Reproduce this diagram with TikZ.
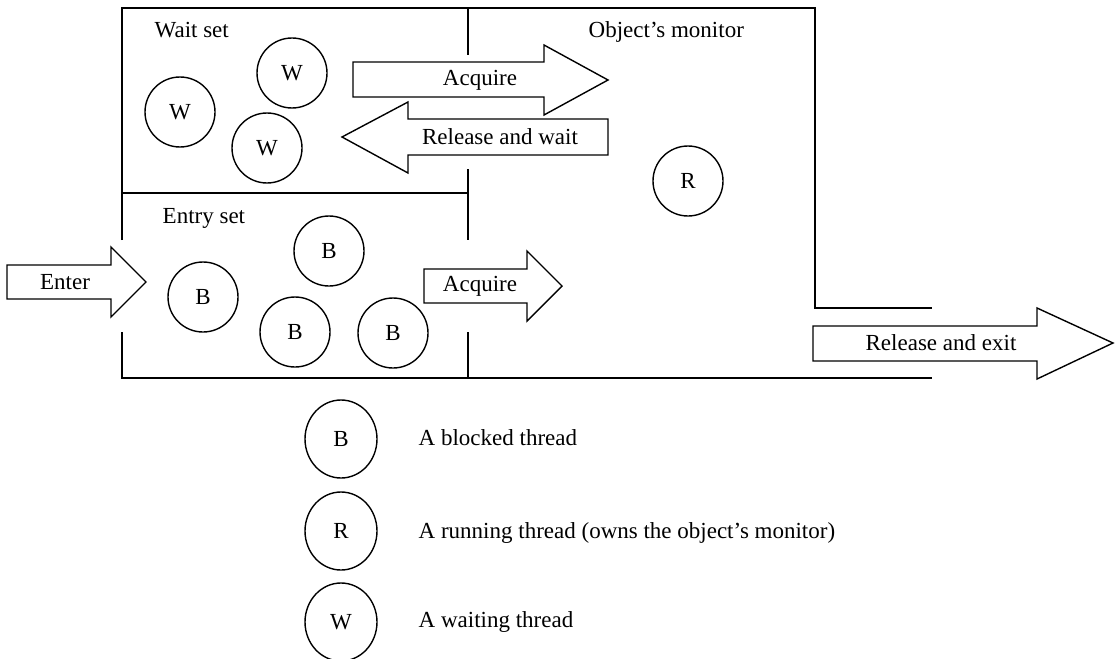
\documentclass[tikz,border=0pt]{standalone}
\usepackage{fontspec}
\setmainfont{Liberation Serif}
\usetikzlibrary{shapes.geometric}
\begin{document}
\begin{tikzpicture}[x=1pt, y=-1pt,
  line width=1.4pt, line join=miter,
  every node/.style={font=\fontsize{23}{27}\selectfont, inner sep=0pt},
  thread/.style={draw, circle, minimum size=70pt, line width=1.4pt},
  legthread/.style={draw, ellipse, minimum width=72pt, minimum height=78pt, line width=1.4pt},
  blockarrow/.style={draw, line width=1.4pt},
  lbl/.style={anchor=base west}]
\useasboundingbox (0,0) rectangle (1118,658);

% monitor enclosure
\draw (122,240) -- (122,8) -- (815,8) -- (815,308) -- (932,308);
\draw (122,332) -- (122,378) -- (932,378);
\draw (122,193) -- (468,193);
\draw (468,8) -- (468,55);
\draw (468,169) -- (468,240);
\draw (468,332) -- (468,378);

% region titles
\node[lbl] (waitset) at (154,38) {Wait set};
\node[lbl] (entryset) at (162,223) {Entry set};
\node[lbl] (monitor) at (588,38) {Object's monitor};

% threads in the wait set
\node[thread] (w1) at (180,112) {W};
\node[thread] (w2) at (292,73) {W};
\node[thread] (w3) at (267,148) {W};

% threads in the entry set
\node[thread] (b1) at (203,297) {B};
\node[thread] (b2) at (329,251) {B};
\node[thread] (b3) at (295,332) {B};
\node[thread] (b4) at (393,333) {B};

% owner of the monitor
\node[thread] (r) at (688,181) {R};

% block arrows
\draw[blockarrow] (7,265) -- (111,265) -- (111,247) -- (146,282) -- (111,317) -- (111,299) -- (7,299) -- cycle;
\node (enter) at (65,282) {Enter};

\draw[blockarrow] (353,62) -- (544,62) -- (544,45) -- (608,80) -- (544,115) -- (544,97) -- (353,97) -- cycle;
\node (acqtop) at (480,80) {Acquire};

\draw[blockarrow] (608,119) -- (408,119) -- (408,102) -- (342,137) -- (408,173) -- (408,155) -- (608,155) -- cycle;
\node (relwait) at (500,137) {Release and wait};

\draw[blockarrow] (424,269) -- (527,269) -- (527,251) -- (562,286) -- (527,321) -- (527,303) -- (424,303) -- cycle;
\node (acqbot) at (480,286) {Acquire};

\draw[blockarrow] (813,326) -- (1037,326) -- (1037,308) -- (1113,343) -- (1037,379) -- (1037,361) -- (813,361) -- cycle;
\node (relexit) at (941,343) {Release and exit};

% legend
\node[legthread] (lb) at (341,439) {B};
\node[legthread] (lr) at (341,531) {R};
\node[legthread] (lw) at (341,622) {W};
\node[lbl] (lbt) at (418,445) {A blocked thread};
\node[lbl] (lrt) at (418,538) {A running thread (owns the object's monitor)};
\node[lbl] (lwt) at (418,627) {A waiting thread};
\end{tikzpicture}
\end{document}
